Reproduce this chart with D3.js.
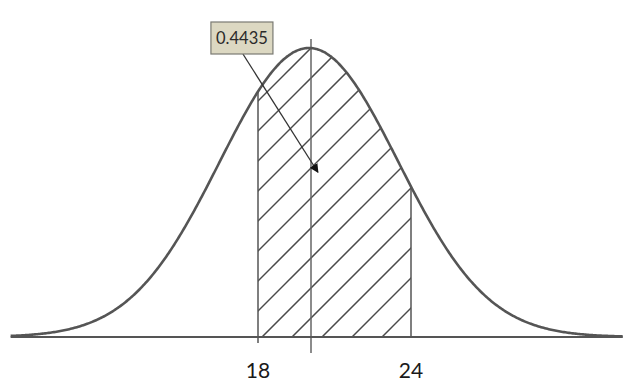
<!DOCTYPE html>
<html>
<head>
<meta charset="utf-8">
<script src="https://cdn.jsdelivr.net/npm/d3@7"></script>
<style>
  html, body { margin: 0; padding: 0; background: #fff; }
  svg { display: block; }
</style>
</head>
<body>
<div id="chart"></div>
<script>
// distribution drawn in the picture
const mu = 20;
const sigma = 3.5;
const curveRange = [8.3, 32.3];
const bounds = [18, 24];
const tickLabels = ["18", "24"];
const probability = ["0.4435"];

let width = 638;
let height = 386;

let x = d3.scaleLinear().domain([18, 24]).range([258, 411]);
let pdf = v => Math.exp(-0.5 * ((v - mu) / sigma) ** 2) / (sigma * Math.sqrt(2 * Math.PI));
let y = d3.scaleLinear().domain([0, pdf(mu)]).range([337, 48]);

let svg = d3
  .select("#chart")
  .append("svg")
  .attr("width", width)
  .attr("height", height);

let curveData = d3.range(curveRange[0], curveRange[1] + 0.001, 0.05).map(v => [v, pdf(v)]);
let shadeData = d3.range(bounds[0], bounds[1] + 0.001, 0.05).map(v => [v, pdf(v)]);

let line = d3.line().x(d => x(d[0])).y(d => y(d[1])).curve(d3.curveBasis);
let area = d3.area().x(d => x(d[0])).y0(y(0)).y1(d => y(d[1]));

svg.append("clipPath").attr("id", "shade").append("path").attr("d", area(shadeData));

// hatching, 45 degree lines clipped to the shaded area
let step = 30;
let hatch = d3.range(x(bounds[0]) - 300 + 4, x(bounds[1]) + step, step);
svg
  .append("g")
  .attr("clip-path", "url(#shade)")
  .selectAll("line")
  .data(hatch)
  .join("line")
  .attr("x1", d => d)
  .attr("y1", y(0))
  .attr("x2", d => d + 320)
  .attr("y2", y(0) - 320)
  .attr("stroke", "#4a4a4a")
  .attr("stroke-width", 1.5);

// bound lines at 18 and 24
svg
  .selectAll(".bound")
  .data(bounds)
  .join("line")
  .attr("class", "bound")
  .attr("x1", d => x(d))
  .attr("x2", d => x(d))
  .attr("y1", d => y(pdf(d)))
  .attr("y2", (d, i) => (i == 0 ? y(0) + 6 : y(0)))
  .attr("stroke", "#555")
  .attr("stroke-width", 1.5);

// mean line
svg
  .append("line")
  .attr("x1", x(mu) + 2)
  .attr("x2", x(mu) + 2)
  .attr("y1", y(pdf(mu)) - 9)
  .attr("y2", y(0) + 16)
  .attr("stroke", "#666")
  .attr("stroke-width", 1.5);

// baseline
svg
  .append("line")
  .attr("x1", x(curveRange[0]))
  .attr("x2", x(curveRange[1]))
  .attr("y1", y(0))
  .attr("y2", y(0))
  .attr("stroke", "#555")
  .attr("stroke-width", 1.8);

// curve
svg
  .append("path")
  .attr("d", line(curveData))
  .attr("fill", "none")
  .attr("stroke", "#555")
  .attr("stroke-width", 2.6);

// tick labels
svg
  .selectAll(".tick")
  .data(bounds)
  .join("text")
  .attr("class", "tick")
  .attr("x", d => x(d))
  .attr("y", 378)
  .attr("text-anchor", "middle")
  .attr("font-family", "Lato, 'Open Sans', sans-serif")
  .attr("font-size", "21px")
  .attr("fill", "#1a1a1a")
  .text((d, i) => tickLabels[i]);

// callout with arrow
svg
  .append("defs")
  .append("marker")
  .attr("id", "arrow")
  .attr("viewBox", "0 0 10 10")
  .attr("refX", 9)
  .attr("refY", 5)
  .attr("markerWidth", 9)
  .attr("markerHeight", 9)
  .attr("markerUnits", "userSpaceOnUse")
  .attr("orient", "auto")
  .append("path")
  .attr("d", "M0,0L10,5L0,10Z")
  .attr("fill", "#111");

let boxX = x(17.37);
let tip = [x(20.35), y(pdf(mu) * 0.57)];

svg
  .append("line")
  .attr("x1", boxX + 1)
  .attr("y1", 54)
  .attr("x2", tip[0])
  .attr("y2", tip[1])
  .attr("stroke", "#333")
  .attr("stroke-width", 1.3)
  .attr("marker-end", "url(#arrow)");

svg
  .append("rect")
  .attr("x", boxX - 31)
  .attr("y", 22)
  .attr("width", 62)
  .attr("height", 32)
  .attr("fill", "#dcd8c2")
  .attr("stroke", "#7a7a72")
  .attr("stroke-width", 1.2);

svg
  .append("text")
  .attr("x", boxX)
  .attr("y", 44)
  .attr("text-anchor", "middle")
  .attr("font-family", "Lato, 'Open Sans', sans-serif")
  .attr("font-size", "16.5px")
  .attr("fill", "#2a2a2a")
  .text(probability[0]);
</script>
</body>
</html>
